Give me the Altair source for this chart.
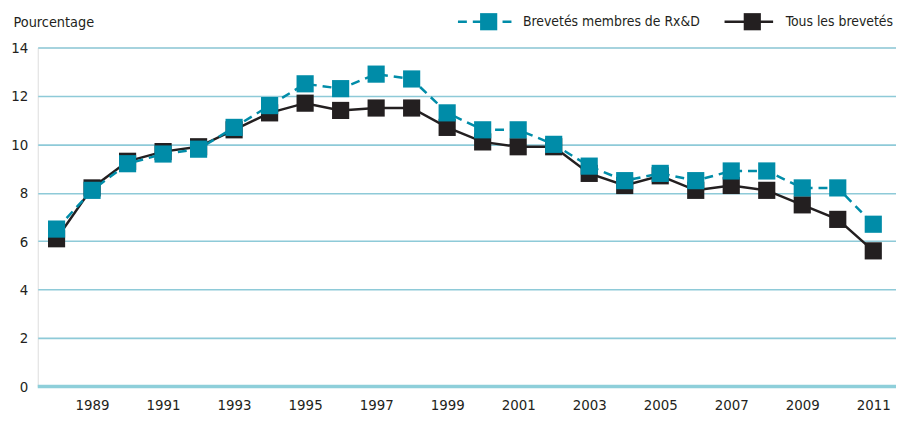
import altair as alt
import pandas as pd

years = list(range(1988, 2012))
rxd = [6.5, 8.1, 9.2, 9.6, 9.8, 10.7, 11.6, 12.5, 12.3, 12.9, 12.7, 11.3,
       10.6, 10.6, 10.0, 9.1, 8.5, 8.8, 8.5, 8.9, 8.9, 8.2, 8.2, 6.7]
tous = [6.1, 8.2, 9.3, 9.7, 9.9, 10.6, 11.3, 11.7, 11.4, 11.5, 11.5, 10.7,
        10.1, 9.9, 9.9, 8.8, 8.3, 8.7, 8.1, 8.3, 8.1, 7.5, 6.9, 5.6]
y_ticks = [0, 2, 4, 6, 8, 10, 12, 14]
x_ticks = list(range(1989, 2012, 2))
series_names = ["Brevetés membres de Rx&D", "Tous les brevetés"]
y_title = "Pourcentage"

TEAL = "#008CA8"
BLACK = "#231F20"
GRID = "#8ECAD8"
FONT = "'DejaVu Sans Condensed', 'Roboto Condensed', Roboto, sans-serif"
FS = 15
LFS = 14

df_rxd = pd.DataFrame({"year": years, "val": rxd})
df_tous = pd.DataFrame({"year": years, "val": tous})

W, H = 866, 342
xscale = alt.Scale(domain=[1987.47, 2011.64], nice=False, zero=False)
yscale = alt.Scale(domain=[0, 14], nice=False)

x_enc = alt.X("year:Q", scale=xscale,
              axis=alt.Axis(values=x_ticks, format="d", grid=False, domain=False,
                            ticks=False, labelPadding=11, labelFontSize=FS,
                            labelColor="#231F20", labelFont=FONT, title=None))
y_enc = alt.Y("val:Q", scale=yscale,
              axis=alt.Axis(values=y_ticks, grid=True, gridColor=GRID, gridWidth=1.6,
                            domain=False, ticks=False, labelPadding=10,
                            labelFontSize=FS, labelColor="#231F20", labelFont=FONT,
                            title=y_title, titleAngle=0, titleAlign="left",
                            titleBaseline="alphabetic", titleX=-25, titleY=-21,
                            titleFont=FONT, titleFontSize=14.5, titleFontWeight="normal",
                            titleColor="#231F20"))

base_black = alt.Chart(df_tous)
base_teal = alt.Chart(df_rxd)

zero_line = alt.Chart(pd.DataFrame({"val": [0]})).mark_rule(
    color="#8ECFDA", strokeWidth=3.5).encode(
    y=alt.Y("val:Q", scale=yscale), x=alt.value(0), x2=alt.value(W))

black_line = base_black.mark_line(color=BLACK, strokeWidth=2.5).encode(x=x_enc, y=y_enc)
black_pts = base_black.mark_point(shape="square", filled=True, opacity=1,
                                  color=BLACK, size=300).encode(x="year:Q", y="val:Q")
teal_line = base_teal.mark_line(color=TEAL, strokeWidth=2.5,
                                strokeDash=[9, 6]).encode(x="year:Q", y="val:Q")
teal_pts = base_teal.mark_point(shape="square", filled=True, opacity=1,
                                color=TEAL, size=300).encode(x="year:Q", y="val:Q")

# manual legend (above plot area)
LY = -26
leg_teal_line = alt.Chart(pd.DataFrame({"a": [0]})).mark_rule(
    color=TEAL, strokeWidth=2.5, strokeDash=[9, 6]).encode(
    x=alt.value(424), x2=alt.value(482), y=alt.value(LY))
leg_teal_pt = alt.Chart(pd.DataFrame({"a": [0]})).mark_point(
    shape="square", filled=True, opacity=1, color=TEAL, size=300).encode(
    x=alt.value(455), y=alt.value(LY))
leg_teal_txt = alt.Chart(pd.DataFrame({"t": [series_names[0]]})).mark_text(
    align="right", baseline="middle", font=FONT, fontSize=LFS, color="#231F20").encode(
    x=alt.value(668), y=alt.value(LY), text="t:N")
leg_black_line = alt.Chart(pd.DataFrame({"a": [0]})).mark_rule(
    color=BLACK, strokeWidth=2.5).encode(
    x=alt.value(693), x2=alt.value(742), y=alt.value(LY))
leg_black_pt = alt.Chart(pd.DataFrame({"a": [0]})).mark_point(
    shape="square", filled=True, opacity=1, color=BLACK, size=300).encode(
    x=alt.value(721), y=alt.value(LY))
leg_black_txt = alt.Chart(pd.DataFrame({"t": [series_names[1]]})).mark_text(
    align="right", baseline="middle", font=FONT, fontSize=LFS, color="#231F20").encode(
    x=alt.value(863), y=alt.value(LY), text="t:N")

chart = alt.layer(
    black_line, zero_line, black_pts, teal_line, teal_pts,
    leg_teal_line, leg_teal_pt, leg_teal_txt,
    leg_black_line, leg_black_pt, leg_black_txt,
).properties(
    width=W, height=H,
    autosize=alt.AutoSizeParams(type="none"),
    padding={"left": 30, "top": 38, "right": 0, "bottom": 30},
).configure_view(stroke=None).configure(background="white")

chart.save("out.html", embed_options={"renderer": "svg", "actions": False})
